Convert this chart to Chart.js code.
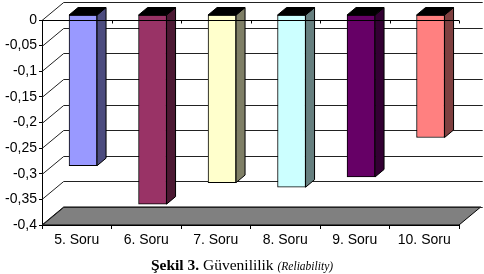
<!DOCTYPE html>
<html>
<head>
<meta charset="utf-8">
<script src="https://cdn.jsdelivr.net/npm/chart.js@4"></script>
<style>
  html, body { margin: 0; padding: 0; background: #fff; }
  #wrap { position: relative; width: 484px; height: 274px; }
  canvas { position: absolute; left: 0; top: 0; }
  #cap { position: absolute; left: 0; width: 484px; top: 256px; text-align: center;
         font-family: "Liberation Serif", "DejaVu Serif", serif; font-size: 15.5px; line-height: 17px; color: #000; white-space: nowrap; }
  #cap b { font-weight: bold; }
  #cap i { font-size: 11.5px; }
</style>
</head>
<body>
<div id="wrap">
  <canvas id="c" width="484" height="274"></canvas>
  <div id="cap"><b>Şekil 3.</b> Güvenililik <i>(Reliability)</i></div>
</div>
<script>
const categories = ["5. Soru", "6. Soru", "7. Soru", "8. Soru", "9. Soru", "10. Soru"];
const values = [-0.295, -0.37, -0.328, -0.337, -0.317, -0.24];
const barColors = ["#9999FF", "#993366", "#FFFFCC", "#CCFFFF", "#660066", "#FF8080"];
const yTicks = [0, -0.05, -0.1, -0.15, -0.2, -0.25, -0.3, -0.35, -0.4];

const DX = 21.7, DY = -18;     // wall depth
const BX = 6.3, BY = -5.5;     // bar front offset into depth
const SX = 9, SY = -7.5;       // bar depth

function darker(hex) {
  const n = parseInt(hex.slice(1), 16);
  const r = (n >> 16) & 255, g = (n >> 8) & 255, b = n & 255;
  return `rgb(${r >> 1},${g >> 1},${b >> 1})`;
}

const threeD = {
  id: 'threeD',
  beforeDatasetsDraw(chart) {
    const { ctx, chartArea: a, scales: { y } } = chart;
    ctx.save();
    const yb = y.getPixelForValue(-0.4);
    ctx.beginPath();
    ctx.moveTo(a.left, yb);
    ctx.lineTo(a.right, yb);
    ctx.lineTo(a.right + DX, yb + DY);
    ctx.lineTo(a.left + DX, yb + DY);
    ctx.closePath();
    ctx.fillStyle = '#808080';
    ctx.fill();
    ctx.strokeStyle = '#000';
    ctx.lineWidth = 1;
    ctx.stroke();
    ctx.strokeStyle = '#222';
    ctx.lineWidth = 1;
    yTicks.forEach(v => {
      const py = Math.round(y.getPixelForValue(v)) + 0.5;
      ctx.beginPath();
      ctx.moveTo(a.left, py);
      ctx.lineTo(a.left + DX, py + DY);
      ctx.lineTo(a.right + DX + 2, py + DY);
      ctx.stroke();
    });
    ctx.restore();
    ctx.save();
    ctx.translate(BX, BY);
  },
  afterDatasetsDraw(chart) {
    const { ctx } = chart;
    const meta = chart.getDatasetMeta(0);
    meta.data.forEach((bar, i) => {
      const p = bar.getProps(['x', 'y', 'base', 'width'], true);
      const l = p.x - p.width / 2, r = p.x + p.width / 2;
      const top = Math.min(p.y, p.base), bot = Math.max(p.y, p.base);
      ctx.lineWidth = 1;
      ctx.strokeStyle = '#000';
      ctx.beginPath();
      ctx.moveTo(r, top);
      ctx.lineTo(r + SX, top + SY);
      ctx.lineTo(r + SX, bot + SY);
      ctx.lineTo(r, bot);
      ctx.closePath();
      ctx.fillStyle = darker(barColors[i]);
      ctx.fill();
      ctx.stroke();
      ctx.beginPath();
      ctx.moveTo(l, top);
      ctx.lineTo(l + SX, top + SY);
      ctx.lineTo(r + SX, top + SY);
      ctx.lineTo(r, top);
      ctx.closePath();
      ctx.fillStyle = '#000';
      ctx.fill();
      ctx.stroke();
    });
    ctx.restore();
    const { chartArea: a, scales: { y } } = chart;
    const py = Math.round(y.getPixelForValue(0)) + 0.5;
    ctx.save();
    ctx.strokeStyle = '#000';
    ctx.lineWidth = 1;
    ctx.beginPath();
    ctx.moveTo(a.left, py);
    ctx.lineTo(a.right, py);
    const n = categories.length;
    for (let k = 0; k <= n; k++) {
      const tx = Math.round(a.left + (a.right - a.left) * k / n) + 0.5;
      ctx.moveTo(tx, py);
      ctx.lineTo(tx, py + 3);
    }
    ctx.stroke();
    ctx.restore();
  }
};

new Chart(document.getElementById('c'), {
  type: 'bar',
  data: {
    labels: categories,
    datasets: [{
      data: values,
      backgroundColor: barColors,
      borderColor: '#000',
      borderWidth: 1,
      borderSkipped: false,
      barThickness: 28
    }]
  },
  options: {
    responsive: false,
    animation: false,
    events: [],
    layout: { padding: { left: 0, top: 20, right: 25, bottom: 24 } },
    plugins: { legend: { display: false }, tooltip: { enabled: false }, title: { display: false } },
    scales: {
      x: {
        offset: true,
        grid: { display: true, drawOnChartArea: false, drawTicks: true, tickLength: 4, color: '#000', offset: true },
        border: { display: true, color: '#000' },
        ticks: { color: '#000', font: { family: 'Liberation Sans, Arial, sans-serif', size: 14 }, padding: 3, maxRotation: 0 },
        afterFit(s) { s.height = 25; }
      },
      y: {
        min: -0.4, max: 0,
        afterBuildTicks(s) { s.ticks = yTicks.map(v => ({ value: v })); },
        grid: { display: true, drawOnChartArea: false, drawTicks: true, tickLength: 3, color: '#000' },
        border: { display: true, color: '#000' },
        ticks: {
          color: '#000', font: { family: 'Liberation Sans, Arial, sans-serif', size: 14 }, padding: 2,
          callback(v) { const r = Math.round(v * 100) / 100; return r === 0 ? '0' : String(r).replace('.', ','); }
        },
        afterFit(s) { s.width = 42; }
      }
    }
  },
  plugins: [threeD]
});
</script>
</body>
</html>
